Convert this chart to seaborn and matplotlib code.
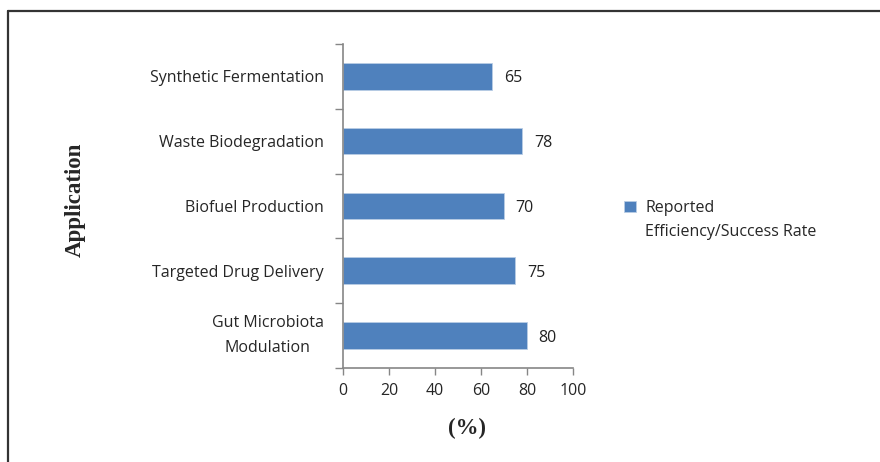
import pandas as pd
import matplotlib.pyplot as plt
import seaborn as sns
from matplotlib.lines import Line2D
from matplotlib.ticker import FixedLocator

applications = ['Synthetic Fermentation', 'Waste Biodegradation', 'Biofuel Production',
                'Targeted Drug Delivery', 'Gut Microbiota\nModulation']
rates = [65, 78, 70, 75, 80]
legend_lines = ['Reported', 'Efficiency/Success Rate']

df = pd.DataFrame({'Application': applications, 'Rate': rates})

sns.set_theme(style='white')
plt.rcParams['font.family'] = ['Open Sans', 'DejaVu Sans']

fig = plt.figure(figsize=(8.8, 4.62), dpi=100)
ax = fig.add_axes([0.390, 0.2035, 0.261, 0.7015])

sns.barplot(data=df, x='Rate', y='Application', orient='h', color='#4F81BD',
            width=0.41, edgecolor='#B9CDE5', linewidth=0.6, saturation=1,
            label=legend_lines[0], ax=ax)

# value labels
for i, v in enumerate(rates):
    ax.text(v + 5, i, str(v), va='center_baseline', ha='left', fontsize=11.5, color='#222222')

ax.set_xlim(0, 100)
ax.set_ylim(len(applications) - 0.5, -0.5)
ax.set_xticks([0, 20, 40, 60, 80, 100])
ax.tick_params(axis='x', which='major', bottom=True, direction='out', length=5, width=1,
               color='#868686', labelsize=11.5, pad=6)
ax.tick_params(axis='y', which='major', left=False, length=0, labelsize=11.5, pad=14)
ax.yaxis.set_minor_locator(FixedLocator([i - 0.5 for i in range(len(applications) + 1)]))
ax.tick_params(axis='y', which='minor', left=True, direction='out', length=6, width=1,
               color='#868686')
for t in ax.get_yticklabels():
    if '\n' in t.get_text():
        t.set_multialignment('center')
        t.set_linespacing(1.75)
        t.set_va('center')

for s in ['top', 'right']:
    ax.spines[s].set_visible(False)
for s in ['left', 'bottom']:
    ax.spines[s].set_color('#868686')
    ax.spines[s].set_linewidth(1.2)

ax.set_xlabel('(%)', fontsize=16.5, fontweight='bold', family='Liberation Serif')
ax.set_ylabel('Application', fontsize=16.5, fontweight='bold', family='Liberation Serif')
ax.xaxis.set_label_coords(0.54, -0.154)
ax.yaxis.set_label_coords(-1.12, 0.52)
ax.grid(False)

leg = ax.legend(loc='upper left', bbox_to_anchor=(1.222, 0.518), frameon=False,
                fontsize=11.5, handlelength=0.75, handleheight=0.75, handletextpad=0.6,
                borderpad=0, borderaxespad=0)

# second legend line placed under the first one
fig.canvas.draw()
bb = leg.get_texts()[0].get_window_extent()
fig.text(bb.x0 / fig.bbox.width, (bb.y0 - 24) / fig.bbox.height, legend_lines[1],
         fontsize=11.5, ha='left', va='bottom', color=leg.get_texts()[0].get_color())

# outer frame (top and left edges visible in the crop)
fig.add_artist(Line2D([8 / 880, 8 / 880], [0, 1 - 11 / 462], transform=fig.transFigure,
                      color='#333333', linewidth=1.6))
fig.add_artist(Line2D([8 / 880, 1], [1 - 11 / 462, 1 - 11 / 462], transform=fig.transFigure,
                      color='#333333', linewidth=1.6))

fig.savefig('out.png', dpi=100, facecolor='white')
plt.close()
